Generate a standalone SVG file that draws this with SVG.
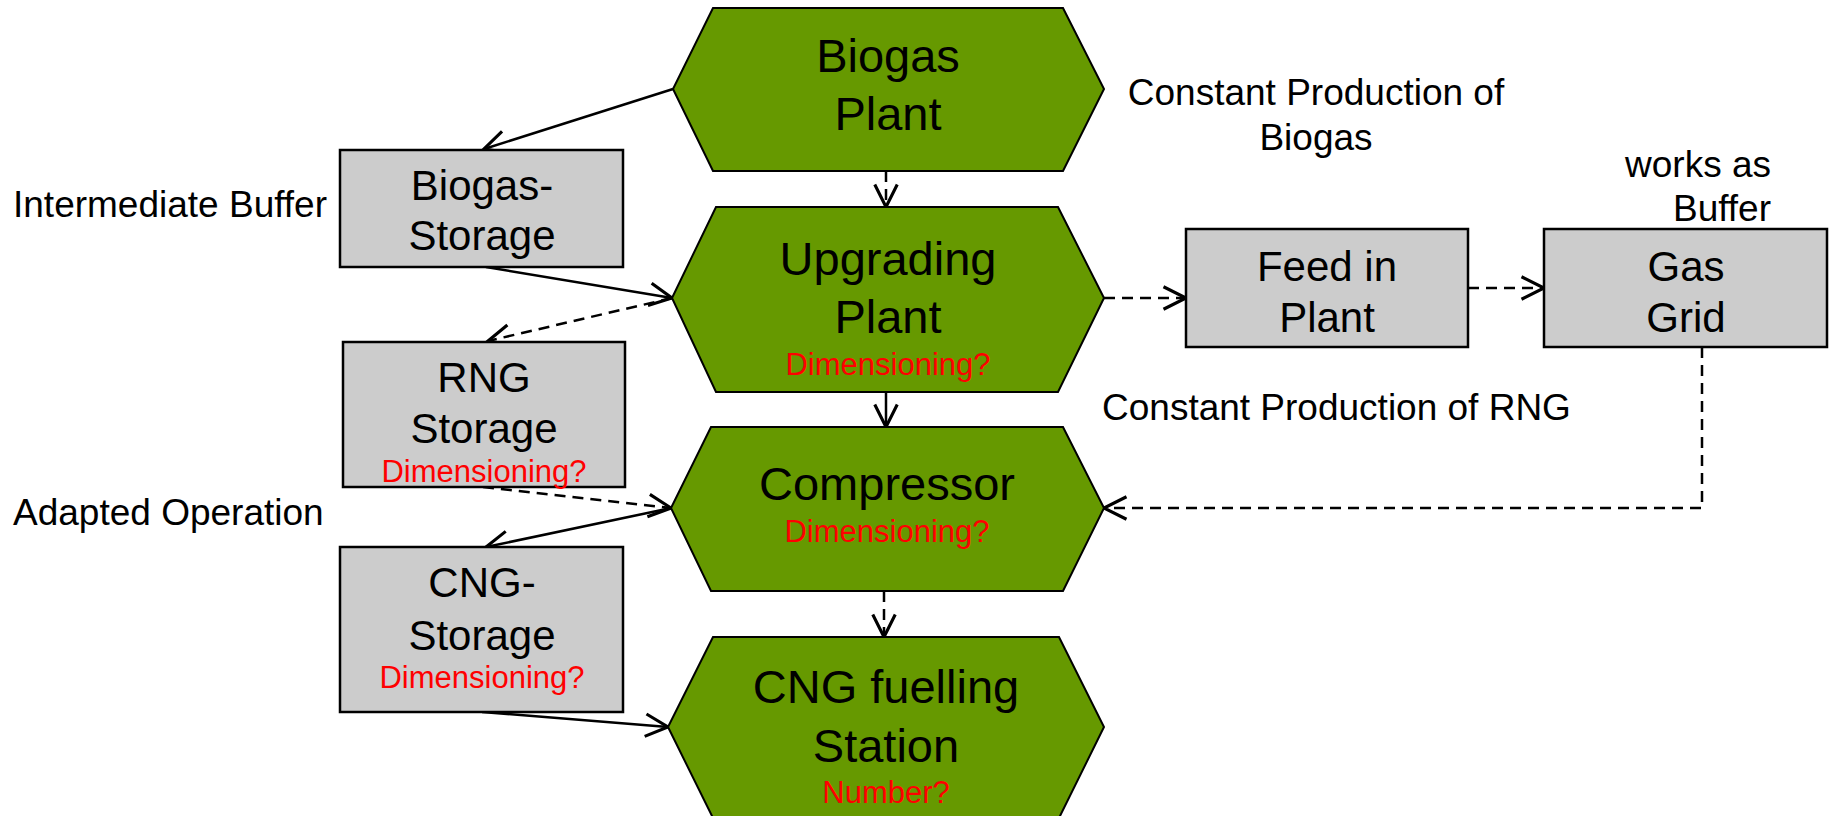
<svg xmlns="http://www.w3.org/2000/svg" width="1830" height="816" viewBox="0 0 1830 816">
<style>
.hex{fill:#669900;stroke:#000;stroke-width:2}
.box{fill:#cccccc;stroke:#000;stroke-width:2.5}
text{font-family:"Liberation Sans",Arial,sans-serif;fill:#000}
.big{font-size:47px;text-anchor:middle}
.mid{font-size:42px;text-anchor:middle}
.red{font-size:31px;text-anchor:middle;fill:#ff0000}
.ann{font-size:37px}
.c{fill:none;stroke:#000;stroke-width:2.5}
.d{stroke-dasharray:11 7}
</style>
<defs>
<marker id="ah" markerUnits="userSpaceOnUse" markerWidth="30" markerHeight="30" refX="20" refY="10" orient="auto" viewBox="0 0 24 20">
<path d="M2,1 L20,10 L2,19" fill="none" stroke="#000" stroke-width="2.5"/>
</marker>
</defs>
<rect width="1830" height="816" fill="#fff"/>
<g id="connectors">
<line class="c" x1="673" y1="89" x2="484" y2="149" marker-end="url(#ah)"/>
<line class="c d" x1="886" y1="171" x2="886" y2="207" marker-end="url(#ah)"/>
<line class="c" x1="486" y1="267" x2="672" y2="298" marker-end="url(#ah)"/>
<line class="c d" x1="672" y1="298" x2="488" y2="341" marker-end="url(#ah)"/>
<line class="c" x1="886" y1="392" x2="886" y2="427" marker-end="url(#ah)"/>
<line class="c d" x1="483" y1="487" x2="671" y2="508" marker-end="url(#ah)"/>
<line class="c" x1="671" y1="508" x2="486" y2="547" marker-end="url(#ah)"/>
<line class="c" x1="482" y1="712" x2="668" y2="727" marker-end="url(#ah)"/>
<line class="c d" x1="884" y1="591" x2="884" y2="637" marker-end="url(#ah)"/>
<line class="c d" x1="1104" y1="298" x2="1186" y2="298" marker-end="url(#ah)"/>
<line class="c d" x1="1468" y1="288" x2="1544" y2="288" marker-end="url(#ah)"/>
<polyline class="c d" points="1702,347 1702,508 1104,508" marker-end="url(#ah)"/>
</g>
<g id="biogas-plant">
<polygon class="hex" points="713,8 1063,8 1104,89 1063,171 713,171 673,89"/>
<text class="big" x="888" y="72">Biogas</text>
<text class="big" x="888" y="130">Plant</text>
</g>
<g id="upgrading-plant">
<polygon class="hex" points="716,207 1058,207 1104,298 1058,392 716,392 672,298"/>
<text class="big" x="888" y="275">Upgrading</text>
<text class="big" x="888" y="333">Plant</text>
<text class="red" x="888" y="375">Dimensioning?</text>
</g>
<g id="compressor">
<polygon class="hex" points="711,427 1063,427 1104,508 1063,591 711,591 671,508"/>
<text class="big" x="887" y="500">Compressor</text>
<text class="red" x="887" y="542">Dimensioning?</text>
</g>
<g id="cng-station">
<polygon class="hex" points="713,637 1059,637 1104,727 1059,818 713,818 668,727"/>
<text class="big" x="886" y="703">CNG fuelling</text>
<text class="big" x="886" y="762">Station</text>
<text class="red" x="886" y="803">Number?</text>
</g>
<g id="biogas-storage">
<rect class="box" x="340" y="150" width="283" height="117"/>
<text class="mid" x="482" y="200">Biogas-</text>
<text class="mid" x="482" y="250">Storage</text>
</g>
<g id="rng-storage">
<rect class="box" x="343" y="342" width="282" height="145"/>
<text class="mid" x="484" y="392">RNG</text>
<text class="mid" x="484" y="443">Storage</text>
<text class="red" x="484" y="482">Dimensioning?</text>
</g>
<g id="cng-storage">
<rect class="box" x="340" y="547" width="283" height="165"/>
<text class="mid" x="482" y="597">CNG-</text>
<text class="mid" x="482" y="650">Storage</text>
<text class="red" x="482" y="688">Dimensioning?</text>
</g>
<g id="feed-in-plant">
<rect class="box" x="1186" y="229" width="282" height="118"/>
<text class="mid" x="1327" y="281">Feed in</text>
<text class="mid" x="1327" y="332">Plant</text>
</g>
<g id="gas-grid">
<rect class="box" x="1544" y="229" width="283" height="118"/>
<text class="mid" x="1686" y="281">Gas</text>
<text class="mid" x="1686" y="332">Grid</text>
</g>
<g id="annotations">
<text class="ann" x="1316" y="105" text-anchor="middle">Constant Production of</text>
<text class="ann" x="1316" y="150" text-anchor="middle">Biogas</text>
<text class="ann" x="1771" y="177" text-anchor="end">works as</text>
<text class="ann" x="1771" y="221" text-anchor="end">Buffer</text>
<text class="ann" x="1102" y="420">Constant Production of RNG</text>
<text class="ann" x="13" y="217">Intermediate Buffer</text>
<text class="ann" x="13" y="525">Adapted Operation</text>
</g>
</svg>
